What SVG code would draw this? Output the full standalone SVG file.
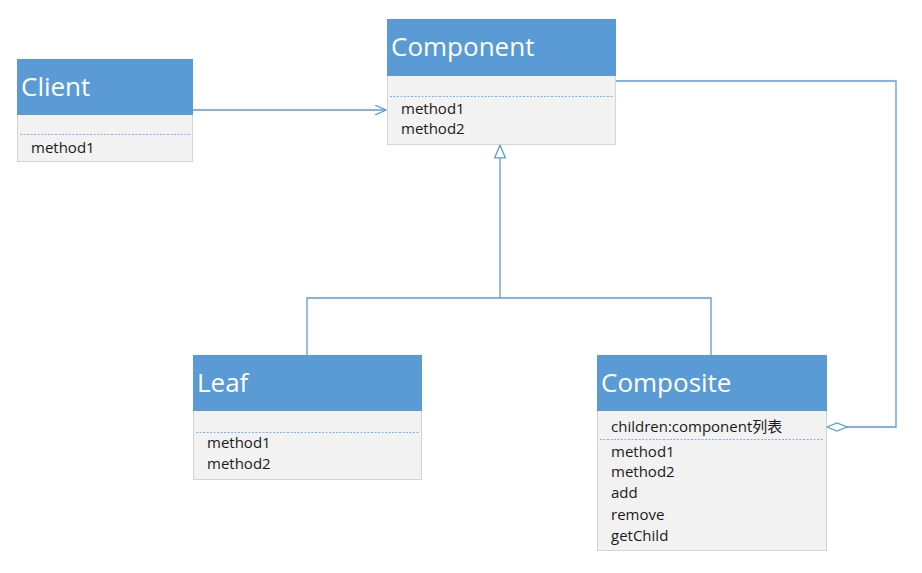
<svg xmlns="http://www.w3.org/2000/svg" width="922" height="573" viewBox="0 0 922 573">
<defs>
<style>
.hd{fill:#5b9bd5;}
.bd{fill:#f2f2f2;stroke:#d4d4d4;stroke-width:1;}
.ttl{font-family:"Open Sans","Noto Sans",sans-serif;font-size:26px;fill:#ffffff;}
.tx{font-family:"Open Sans","Noto Sans","Noto Sans CJK SC",sans-serif;font-size:15px;fill:#1a1a1a;}
.dot{stroke:#7fb2e0;stroke-width:1;stroke-dasharray:2 1.5;}
.ln{fill:none;stroke:#5b9bd5;stroke-width:1.3;}
</style>
<marker id="open" viewBox="0 0 12 10" refX="11" refY="5" markerWidth="12" markerHeight="10" markerUnits="userSpaceOnUse" orient="auto">
<path d="M0,0 L11,5 L0,10" fill="none" stroke="#5b9bd5" stroke-width="1.3"/>
</marker>
<marker id="tri" viewBox="0 0 14 12" refX="13.5" refY="6" markerWidth="14" markerHeight="12" markerUnits="userSpaceOnUse" orient="auto">
<path d="M0.7,0.7 L13.3,6 L0.7,11.3 Z" fill="#ffffff" stroke="#5b9bd5" stroke-width="1.3"/>
</marker>
<marker id="dia" viewBox="0 0 22 10" refX="21" refY="5" markerWidth="22" markerHeight="10" markerUnits="userSpaceOnUse" orient="auto">
<path d="M1,5 L11,1 L21,5 L11,9 Z" fill="#ffffff" stroke="#5b9bd5" stroke-width="1.3"/>
</marker>
</defs>
<rect width="922" height="573" fill="#ffffff"/>
<g id="connectors">
<path class="ln" d="M192,110 L386,110" marker-end="url(#open)"/>
<path class="ln" d="M500,298 L500,145" marker-end="url(#tri)"/>
<path class="ln" d="M307,355 L307,298 L711,298 L711,355"/>
<path class="ln" d="M615,81 L896,81 L896,427 L827,427" marker-end="url(#dia)"/>
</g>
<g id="client">
<rect class="bd" x="17.5" y="59.5" width="175" height="102"/>
<rect class="hd" x="17" y="59" width="176" height="56"/>
<text class="ttl" x="21" y="96">Client</text>
<line class="dot" x1="20" y1="134.5" x2="190" y2="134.5"/>
<text class="tx" x="31" y="153">method1</text>
</g>
<g id="component">
<rect class="bd" x="387.5" y="19.5" width="228" height="125"/>
<rect class="hd" x="387" y="19" width="229" height="57"/>
<text class="ttl" x="391" y="56">Component</text>
<line class="dot" x1="390" y1="96.5" x2="613" y2="96.5"/>
<text class="tx" x="401" y="114">method1</text>
<text class="tx" x="401" y="134">method2</text>
</g>
<g id="leaf">
<rect class="bd" x="193.5" y="355.5" width="228" height="124"/>
<rect class="hd" x="193" y="355" width="229" height="56"/>
<text class="ttl" x="197" y="392">Leaf</text>
<line class="dot" x1="196" y1="432.5" x2="419" y2="432.5"/>
<text class="tx" x="207" y="448">method1</text>
<text class="tx" x="207" y="469">method2</text>
</g>
<g id="composite">
<rect class="bd" x="597.5" y="355.5" width="229" height="195"/>
<rect class="hd" x="597" y="355" width="230" height="56"/>
<text class="ttl" x="601" y="392">Composite</text>
<text class="tx" x="611" y="432">children:component列表</text>
<line class="dot" x1="600" y1="439.5" x2="823" y2="439.5"/>
<text class="tx" x="611" y="457">method1</text>
<text class="tx" x="611" y="477">method2</text>
<text class="tx" x="611" y="498">add</text>
<text class="tx" x="611" y="520">remove</text>
<text class="tx" x="611" y="541">getChild</text>
</g>
</svg>
